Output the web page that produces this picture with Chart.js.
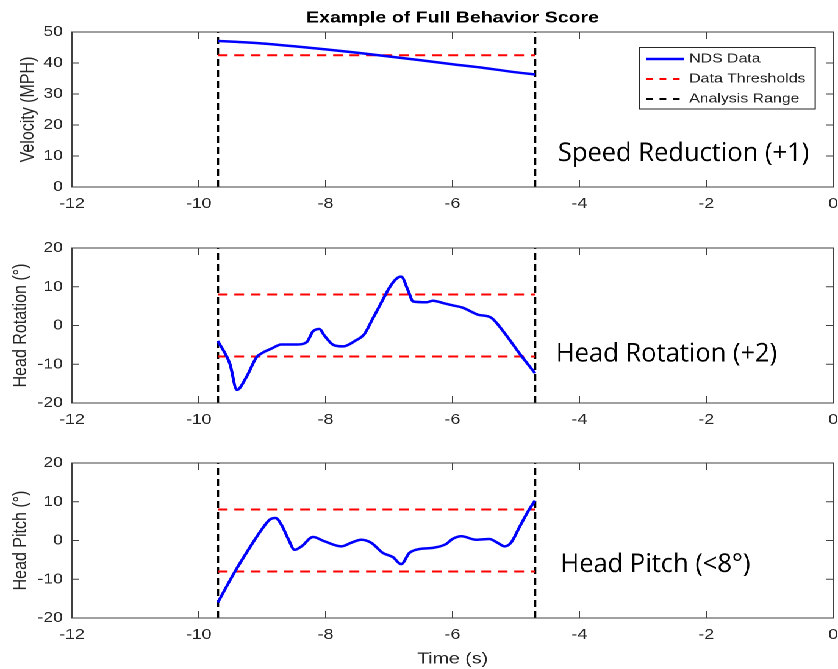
<!DOCTYPE html>
<html>
<head>
<meta charset="utf-8">
<script src="https://cdn.jsdelivr.net/npm/chart.js@4.4.0/dist/chart.umd.min.js"></script>
<style>
  html, body { margin: 0; padding: 0; background: #fff; }
  body { width: 838px; height: 669px; overflow: hidden; }
  /* the figure was exported wider than it was drawn, so stretch it the same way */
  #figure { position: relative; width: 687px; height: 669px; transform: scaleX(1.2198); transform-origin: 0 0; }
  .panel { position: absolute; left: 0; width: 687px; }
</style>
</head>
<body>
<div id="figure">
  <div class="panel" style="top:0;height:215px"><canvas id="speed"></canvas></div>
  <div class="panel" style="top:215px;height:215px"><canvas id="rotation"></canvas></div>
  <div class="panel" style="top:430px;height:239px"><canvas id="pitch"></canvas></div>
</div>
<script>
const STRETCH = 838 / 687;

const xTicks = [-12, -10, -8, -6, -4, -2, 0];
const speedTicks = [0, 10, 20, 30, 40, 50];
const angleTicks = [-20, -10, 0, 10, 20];
const analysisRange = [-9.7, -4.7];

const speedTime = [-9.7, -9.4, -9.0, -8.5, -8.0, -7.5, -7.0, -6.5, -6.0, -5.5, -5.0, -4.7];
const speedMph = [47.1, 46.8, 46.3, 45.4, 44.4, 43.3, 42.1, 40.9, 39.6, 38.4, 37.0, 36.3];
const speedThresholds = [42.5];

const rotationTime = [-9.7, -9.51, -9.40, -9.25, -9.09, -8.99, -8.86, -8.70, -8.46, -8.30, -8.20, -8.10,
  -8.02, -7.88, -7.73, -7.54, -7.39, -7.26, -7.12, -6.99, -6.89, -6.81, -6.70, -6.62, -6.41, -6.31,
  -6.15, -6.00, -5.84, -5.60, -5.39, -5.21, -4.94, -4.7];
const rotationDeg = [-4.0, -9.9, -16.6, -13.3, -8.2, -7.0, -6.0, -4.9, -4.9, -4.3, -1.5, -0.9,
  -2.6, -5.0, -5.4, -4.0, -2.2, 1.7, 6.0, 9.9, 12.0, 12.6, 9.0, 6.2, 6.0, 6.4,
  5.8, 5.2, 4.6, 2.8, 2.0, -1.3, -7.3, -12.3];
const rotationThresholds = [8, -8];

const pitchTime = [-9.7, -9.43, -9.20, -9.01, -8.88, -8.79, -8.70, -8.59, -8.49, -8.38, -8.20, -8.02,
  -7.75, -7.60, -7.44, -7.28, -7.10, -6.94, -6.81, -6.68, -6.52, -6.31, -6.10, -6.00, -5.86, -5.63,
  -5.42, -5.29, -5.18, -5.08, -4.94, -4.81, -4.7];
const pitchDeg = [-16.0, -8.0, -1.9, 2.8, 5.4, 5.8, 4.1, 0.4, -2.4, -1.5, 0.9, -0.2,
  -1.5, -0.6, 0.2, -0.6, -3.2, -4.3, -6.1, -3.2, -2.2, -1.9, -0.9, 0.4, 1.1, 0.2,
  0.4, -0.6, -1.5, -0.6, 3.6, 7.5, 10.3];
const pitchThresholds = [8, -8];

const legendLabels = ['NDS Data', 'Data Thresholds', 'Analysis Range'];

const FONT = "'Liberation Sans', Arial, Helvetica, sans-serif";
const INK = '#262626';
Chart.defaults.font.family = FONT;

// box, inward ticks on all four sides, legend and score note, matlab style
const matlabBox = {
  id: 'matlabBox',
  afterDatasetsDraw(chart, args, opts) {
    const { ctx, chartArea: a, scales: { x, y } } = chart;
    ctx.save();
    ctx.strokeStyle = '#404040';
    ctx.lineWidth = 1;
    ctx.setLineDash([]);
    ctx.beginPath();
    xTicks.forEach(v => {
      const px = x.getPixelForValue(v);
      ctx.moveTo(px, a.bottom); ctx.lineTo(px, a.bottom - 7);
      ctx.moveTo(px, a.top); ctx.lineTo(px, a.top + 7);
    });
    opts.yTicks.forEach(v => {
      const py = y.getPixelForValue(v);
      ctx.moveTo(a.left, py); ctx.lineTo(a.left + 5.7, py);
      ctx.moveTo(a.right, py); ctx.lineTo(a.right - 5.7, py);
    });
    ctx.stroke();
    ctx.strokeRect(a.left, a.top, a.width, a.height);

    if (opts.legend) {
      const bx = a.right - 159, by = a.top + 15.5, bw = 144.3, bh = 61.5;
      ctx.fillStyle = '#fff';
      ctx.fillRect(bx, by, bw, bh);
      ctx.strokeStyle = INK;
      ctx.strokeRect(bx, by, bw, bh);
      legendLabels.forEach((label, i) => {
        const ds = chart.data.datasets.find(d => d.label === label);
        const ly = by + 11.5 + i * 20;
        ctx.strokeStyle = ds.borderColor;
        ctx.lineWidth = ds.borderWidth;
        ctx.setLineDash(ds.borderDash ? [5.5, 5.5] : []);
        ctx.beginPath(); ctx.moveTo(bx + 5.7, ly); ctx.lineTo(bx + 36.9, ly); ctx.stroke();
        ctx.fillStyle = INK;
        ctx.font = '13px ' + FONT;
        ctx.textBaseline = 'middle';
        ctx.fillText(label, bx + 41, ly);
      });
    }

    if (opts.note) {
      // the note was pasted on afterwards, so undo the stretch for it
      ctx.translate(x.getPixelForValue(opts.note.x), y.getPixelForValue(opts.note.y));
      ctx.scale(1 / STRETCH, 1);
      ctx.fillStyle = '#000';
      ctx.font = "25.5px 'Open Sans', Lato, sans-serif";
      ctx.textBaseline = 'alphabetic';
      ctx.fillText(opts.note.text, 0, 0);
    }
    ctx.restore();
  }
};

function panel(id, cfg) {
  const yMin = cfg.yTicks[0], yMax = cfg.yTicks[cfg.yTicks.length - 1];
  const datasets = [
    {
      label: 'NDS Data',
      data: cfg.time.map((t, i) => ({ x: t, y: cfg.values[i] })),
      borderColor: '#0000ff', borderWidth: 2.5, cubicInterpolationMode: 'monotone'
    },
    ...cfg.thresholds.map(v => ({
      label: 'Data Thresholds',
      data: analysisRange.map(t => ({ x: t, y: v })),
      borderColor: '#ff0000', borderWidth: 1.9, borderDash: [8, 5.5]
    })),
    ...analysisRange.map(t => ({
      label: 'Analysis Range',
      data: [{ x: t, y: yMin }, { x: t, y: yMax }],
      borderColor: '#000000', borderWidth: 2.1, borderDash: [7, 4]
    }))
  ];

  return new Chart(document.getElementById(id), {
    type: 'line',
    data: { datasets },
    options: {
      responsive: true,
      maintainAspectRatio: false,
      animation: false,
      devicePixelRatio: 2,
      layout: { padding: { top: cfg.title ? 0 : 33, right: 4, bottom: 0, left: 0 } },
      elements: { point: { radius: 0 } },
      plugins: {
        legend: { display: false },
        tooltip: { enabled: false },
        title: {
          display: !!cfg.title,
          text: cfg.title,
          fullSize: false,
          color: '#000',
          font: { size: 16, weight: 'bold' },
          padding: { top: 8.4, bottom: 4.4 }
        },
        matlabBox: { yTicks: cfg.yTicks, legend: cfg.legend, note: cfg.note }
      },
      scales: {
        x: {
          type: 'linear', min: -12, max: 0,
          afterBuildTicks: s => { s.ticks = xTicks.map(v => ({ value: v })); },
          afterFit: s => { s.height = cfg.xHeight; s.paddingLeft = 0; s.paddingRight = 0; },
          grid: { display: false, drawTicks: false },
          border: { display: false },
          ticks: { padding: 8.5, color: INK, font: { size: 14.5 } },
          title: {
            display: !!cfg.xTitle, text: cfg.xTitle, color: INK,
            font: { size: 16 }, padding: { top: 0, bottom: 0.4 }
          }
        },
        y: {
          type: 'linear', min: yMin, max: yMax,
          afterBuildTicks: s => { s.ticks = cfg.yTicks.map(v => ({ value: v })); },
          afterFit: s => { s.width = 59; },
          grid: { display: false, drawTicks: false },
          border: { display: false },
          ticks: { padding: 7.4, color: INK, font: { size: 14.5 } },
          title: {
            display: true, text: cfg.yTitle, color: INK,
            font: { size: 16 }, padding: { top: cfg.yTitlePad, bottom: 0 }
          }
        }
      }
    },
    plugins: [matlabBox]
  });
}

panel('speed', {
  time: speedTime, values: speedMph, thresholds: speedThresholds, yTicks: speedTicks,
  title: 'Example of Full Behavior Score', yTitle: 'Velocity (MPH)', yTitlePad: 13.4,
  xHeight: 28, legend: true,
  note: { text: 'Speed Reduction (+1)', x: -4.34, y: 8.4 }
});

panel('rotation', {
  time: rotationTime, values: rotationDeg, thresholds: rotationThresholds, yTicks: angleTicks,
  yTitle: 'Head Rotation (°)', yTitlePad: 7.6, xHeight: 27,
  note: { text: 'Head Rotation (+2)', x: -4.37, y: -9.3 }
});

panel('pitch', {
  time: pitchTime, values: pitchDeg, thresholds: pitchThresholds, yTicks: angleTicks,
  yTitle: 'Head Pitch (°)', yTitlePad: 7.6, xHeight: 51, xTitle: 'Time (s)',
  note: { text: 'Head Pitch (<8°)', x: -4.30, y: -8.1 }
});
</script>
</body>
</html>
